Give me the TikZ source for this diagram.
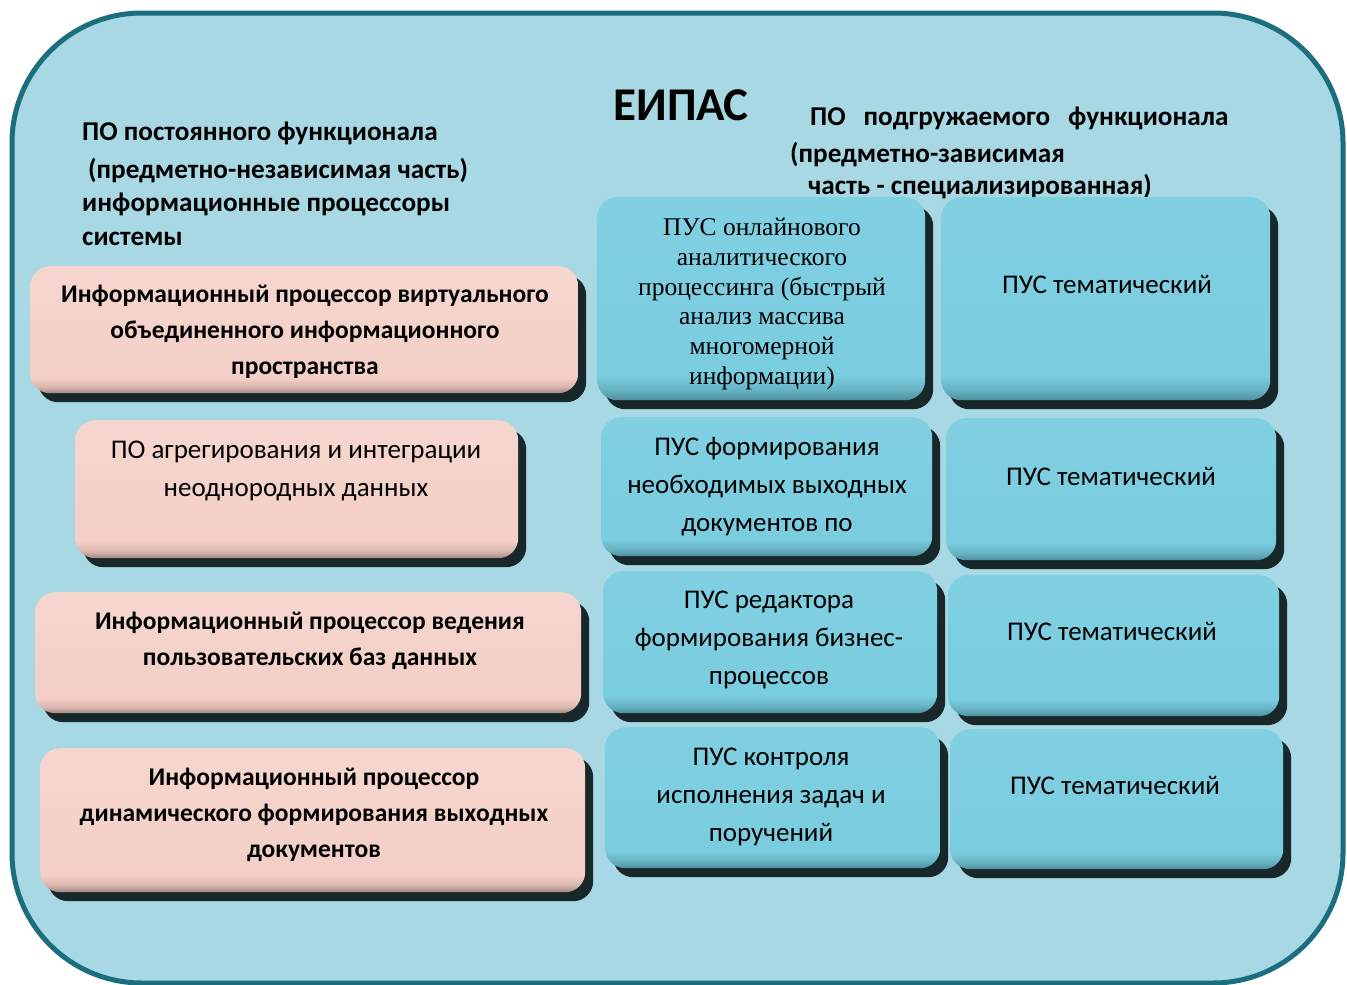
\documentclass[tikz,border=0pt]{standalone}
\usepackage{fontspec}
\setmainfont{Carlito}
\newfontfamily\tnr{Liberation Serif}
\usetikzlibrary{shadows}
\definecolor{outerfill}{HTML}{A8D8E3}
\definecolor{outerline}{HTML}{1B6E7E}
\definecolor{shadowc}{HTML}{17272A}
\definecolor{pinkc}{HTML}{F3CFC6}
\definecolor{pinklight}{HTML}{F5D6CE}
\definecolor{pinkdark}{HTML}{9E8782}
\definecolor{pinkmid}{HTML}{D9B6AE}
\definecolor{bluec}{HTML}{7ACCDF}
\definecolor{bluelight}{HTML}{80D0E2}
\definecolor{bluedark}{HTML}{4E8F9C}
\definecolor{bluemid}{HTML}{66B2C2}
\pgfdeclareverticalshading{pinkbevel}{100bp}{color(0bp)=(pinkdark); color(25bp)=(pinkdark); color(27.5bp)=(pinkmid); color(31bp)=(pinkc); color(75bp)=(pinklight); color(100bp)=(pinklight)}
\pgfdeclareverticalshading{bluebevel}{100bp}{color(0bp)=(bluedark); color(25bp)=(bluedark); color(27.5bp)=(bluemid); color(31bp)=(bluec); color(75bp)=(bluelight); color(100bp)=(bluelight)}
\tikzset{
  boxbase/.style={rounded corners=20pt, inner sep=0pt, anchor=north west,
    general shadow={shadow xshift=8pt, shadow yshift=-9pt, fill=shadowc}},
  pinkbox/.style={boxbase, shading=pinkbevel},
  bluebox/.style={boxbase, shading=bluebevel},
  hdr/.style={font=\fontsize{27.2}{34}\selectfont\bfseries, anchor=base west, inner sep=0pt},
  btxt/.style={font=\fontsize{25.5}{36}\selectfont\bfseries, align=center, inner sep=0pt},
  rtxt/.style={font=\fontsize{27}{38}\selectfont, align=center, inner sep=0pt},
  stxt/.style={font=\fontsize{25.5}{29.8}\selectfont\tnr, align=center, inner sep=0pt},
}
\begin{document}
\begin{tikzpicture}[x=1pt,y=-1pt]
\fill[white] (0,0) rectangle (1347,985);
\useasboundingbox (0,0) rectangle (1347,985);
\draw[line width=5pt, draw=outerline, fill=outerfill, rounded corners=130pt] (12,13) rectangle (1343,983);

% headers
\node[hdr] (hl1) at (82,140) {ПО постоянного функционала};
\node[hdr] (hl2) at (88,178) {(предметно-независимая часть)};
\node[hdr] (hl3) at (82,211) {информационные процессоры};
\node[hdr] (hl4) at (82,245) {системы};
\node[font=\fontsize{47}{52}\selectfont\bfseries, inner sep=0pt] (title) at (681,105) {ЕИПАС};
\node[hdr] (hr1) at (810,125) {ПО\hspace{18pt}подгружаемого\hspace{18pt}функционала};
\node[hdr] (hr2) at (790,162) {(предметно-зависимая};
\node[hdr] (hr3) at (808,194) {часть - специализированная)};

% pink boxes
\node[pinkbox, minimum width=548pt, minimum height=127pt] (p1) at (30,266) {};
\node[pinkbox, minimum width=443pt, minimum height=138pt] (p2) at (75,420) {};
\node[pinkbox, minimum width=546pt, minimum height=121pt] (p3) at (35,592) {};
\node[pinkbox, minimum width=545pt, minimum height=144pt] (p4) at (40,748) {};

\node[btxt] (p1t) at (305,332) {Информационный процессор виртуального\\объединенного информационного\\пространства};
\node[rtxt] (p2t) at (296,471) {ПО агрегирования и интеграции\\неоднородных данных};
\node[btxt] (p3t) at (310,641) {Информационный процессор ведения\\пользовательских баз данных};
\node[btxt] (p4t) at (314,815) {Информационный процессор\\динамического формирования выходных\\документов};

% blue boxes column 1
\node[bluebox, minimum width=328pt, minimum height=203pt] (b1) at (597,197) {};
\node[bluebox, minimum width=331pt, minimum height=139pt] (b2) at (601,417) {};
\node[bluebox, minimum width=334pt, minimum height=142pt] (b3) at (603,571) {};
\node[bluebox, minimum width=335pt, minimum height=141pt] (b4) at (605,727) {};
% blue boxes column 2
\node[bluebox, minimum width=329pt, minimum height=203pt] (c1) at (941,197) {};
\node[bluebox, minimum width=330pt, minimum height=142pt] (c2) at (946,418) {};
\node[bluebox, minimum width=331pt, minimum height=141pt] (c3) at (948,575) {};
\node[bluebox, minimum width=333pt, minimum height=140pt] (c4) at (950,729) {};

\node[stxt] (b1t) at (762,304) {ПУС онлайнового\\аналитического\\процессинга (быстрый\\анализ массива\\многомерной\\информации)};
\node[rtxt] (b2t) at (767,487) {ПУС формирования\\необходимых выходных\\документов по};
\node[rtxt] (b3t) at (769,640) {ПУС редактора\\формирования бизнес-\\процессов};
\node[rtxt] (b4t) at (771,797) {ПУС контроля\\исполнения задач и\\поручений};

\node[rtxt] (c1t) at (1107,284) {ПУС тематический};
\node[rtxt] (c2t) at (1111,476) {ПУС тематический};
\node[rtxt] (c3t) at (1112,631) {ПУС тематический};
\node[rtxt] (c4t) at (1115,785) {ПУС тематический};
\end{tikzpicture}
\end{document}
